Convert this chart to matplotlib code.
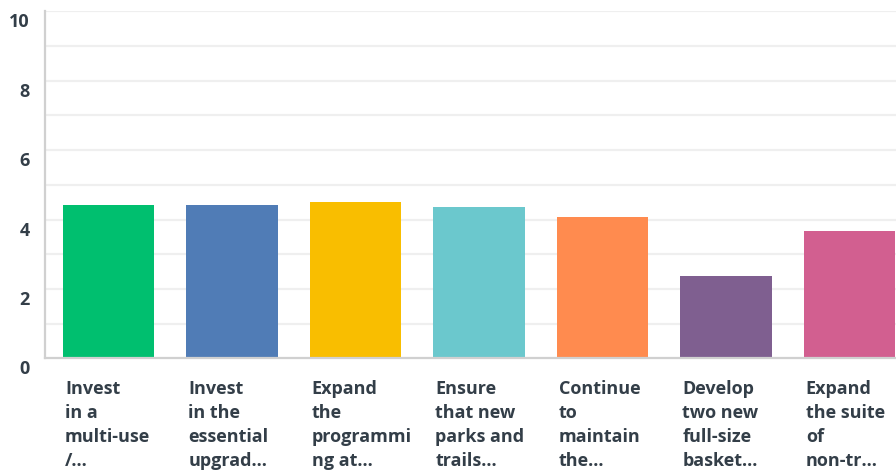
import matplotlib
matplotlib.use("Agg")
import matplotlib.pyplot as plt
from matplotlib.transforms import ScaledTranslation

categories = [
    "Invest\nin a\nmulti-use\n/...",
    "Invest\nin the\nessential\nupgrad...",
    "Expand\nthe\nprogrammi\nng at...",
    "Ensure\nthat new\nparks and\ntrails...",
    "Continue\nto\nmaintain\nthe...",
    "Develop\ntwo new\nfull-size\nbasket...",
    "Expand\nthe suite\nof\nnon-tr...",
]
values = [4.42, 4.42, 4.50, 4.36, 4.07, 2.37, 3.67]
y_ticks = [0, 2, 4, 6, 8, 10]

colors = ["#00bf6f", "#507cb6", "#f9be00", "#6bc8cd", "#ff8b4f", "#7f5f90", "#d25f90"]
text_color = "#333e48"
font = "Open Sans"

fig = plt.figure(figsize=(8.96, 4.70), dpi=100)
ax = fig.add_axes([45 / 896, 1 - 358.3 / 470, 1 - 45 / 896, (358.3 - 11.3) / 470])

x = list(range(len(values)))
bar_w = 0.74
ax.bar(x, values, width=bar_w, color=colors, zorder=3)

ax.set_xlim(-0.515, 6.377)
ax.set_ylim(0, 10)

for yv in range(1, 11):
    ax.axhline(yv, color="#efefef", lw=1.6, zorder=1)

ax.set_yticks(y_ticks)
ax.set_yticklabels([str(t) for t in y_ticks], fontfamily=font, fontweight="bold",
                   fontsize=13, color=text_color)
ax.tick_params(axis="y", length=0, pad=11)
ax.tick_params(axis="x", length=0, labelbottom=False)
for lab in ax.get_yticklabels():
    lab.set_transform(lab.get_transform() + ScaledTranslation(0, -9 / 100, fig.dpi_scale_trans))

for side in ["top", "right"]:
    ax.spines[side].set_visible(False)
ax.spines["left"].set_color("#d0d0d0")
ax.spines["left"].set_linewidth(1.6)
ax.spines["bottom"].set_color("#d0d0d0")
ax.spines["bottom"].set_linewidth(1.6)
ax.spines["left"].set_zorder(4)
ax.spines["bottom"].set_zorder(4)

for i, lab in enumerate(categories):
    ax.annotate(lab, xy=(i - bar_w / 2, 0), xycoords="data",
                xytext=(2, -22), textcoords="offset pixels",
                ha="left", va="top", fontfamily=font, fontweight="bold",
                fontsize=13, color=text_color, linespacing=1.42,
                annotation_clip=False)

fig.savefig("out.png", dpi=100)
